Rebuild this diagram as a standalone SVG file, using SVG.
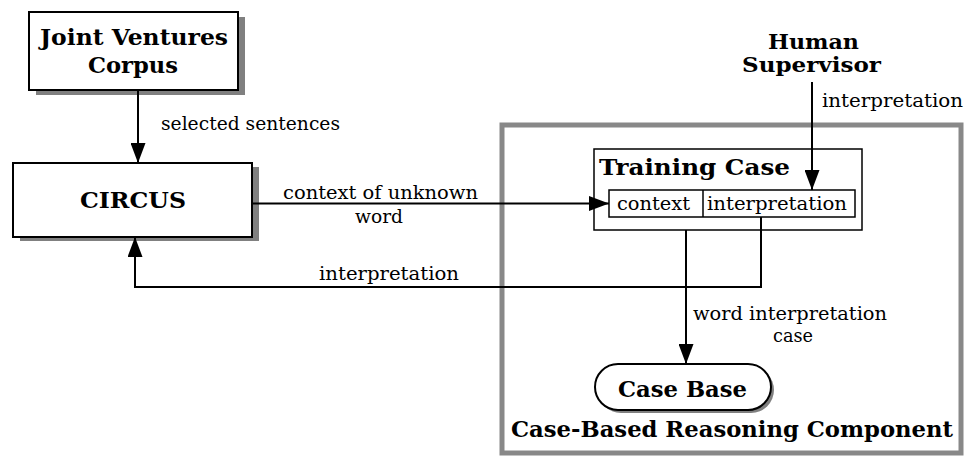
<svg xmlns="http://www.w3.org/2000/svg" width="966" height="465" viewBox="0 0 966 465" font-family="'DejaVu Serif', 'Noto Serif', serif">
  <defs>
    <marker id="arrow" markerUnits="userSpaceOnUse" markerWidth="20" markerHeight="15" refX="20" refY="7.5" orient="auto">
      <path d="M0,0 L20,7.5 L0,15 Z" fill="#000"/>
    </marker>
    <style>
      .box { fill: #fff; stroke: #000; stroke-width: 2; }
      .thin { fill: #fff; stroke: #000; stroke-width: 1.5; }
      .shadow { fill: #808080; stroke: none; }
      .frame { fill: none; stroke: #888; stroke-width: 5; }
      .edge { fill: none; stroke: #000; stroke-width: 2; }
      text { font-family: 'DejaVu Serif', 'Noto Serif', serif; fill: #000; }
      .title { font-weight: bold; font-size: 23px; }
      .small { font-size: 20px; }
      .label { font-size: 19px; }
    </style>
  </defs>
  <rect width="966" height="465" fill="#fff"/>

  <!-- Case-Based Reasoning Component container -->
  <g id="cbr-component">
    <rect class="frame" x="502" y="125" width="459" height="328"/>
    <text class="title" x="511" y="437" textLength="442" lengthAdjust="spacingAndGlyphs">Case-Based Reasoning Component</text>
  </g>

  <!-- Joint Ventures Corpus -->
  <g id="corpus">
    <rect class="shadow" x="36" y="17" width="209" height="78"/>
    <rect class="box" x="29" y="12" width="209" height="78"/>
    <text class="title" x="40" y="45" textLength="188" lengthAdjust="spacingAndGlyphs">Joint Ventures</text>
    <text class="title" x="88" y="73" textLength="90" lengthAdjust="spacingAndGlyphs">Corpus</text>
  </g>

  <!-- CIRCUS -->
  <g id="circus">
    <rect class="shadow" x="20" y="167" width="239" height="74"/>
    <rect class="box" x="13" y="163" width="239" height="74"/>
    <text class="title" x="80" y="208" textLength="106" lengthAdjust="spacingAndGlyphs">CIRCUS</text>
  </g>

  <!-- Human Supervisor -->
  <g id="supervisor">
    <text class="title small" x="768" y="49" textLength="91" lengthAdjust="spacingAndGlyphs">Human</text>
    <text class="title small" x="742" y="72" textLength="139" lengthAdjust="spacingAndGlyphs">Supervisor</text>
  </g>

  <!-- Training Case with its context / interpretation slots -->
  <g id="training-case">
    <rect class="thin" x="594" y="149" width="268" height="81"/>
    <text class="title" x="599" y="175" textLength="191" lengthAdjust="spacingAndGlyphs">Training Case</text>
    <rect class="thin" x="609" y="190" width="246" height="27"/>
    <line x1="703" y1="190" x2="703" y2="217" stroke="#000" stroke-width="1.5"/>
    <text class="label" x="617" y="210" textLength="73" lengthAdjust="spacingAndGlyphs">context</text>
    <text class="label" x="707" y="210" textLength="140" lengthAdjust="spacingAndGlyphs">interpretation</text>
  </g>

  <!-- Case Base -->
  <g id="case-base">
    <rect class="shadow" x="598" y="367" width="176" height="46" rx="23" ry="23"/>
    <rect class="box" x="595" y="364" width="176" height="46" rx="23" ry="23"/>
    <text class="title" x="618" y="397" textLength="129" lengthAdjust="spacingAndGlyphs">Case Base</text>
  </g>

  <!-- Connectors -->
  <g id="connectors">
    <line class="edge" x1="138" y1="90" x2="138" y2="163" marker-end="url(#arrow)"/>
    <text class="label" x="161" y="130" textLength="179" lengthAdjust="spacingAndGlyphs">selected sentences</text>

    <line class="edge" x1="252" y1="203.5" x2="609" y2="203.5" marker-end="url(#arrow)"/>
    <text class="label" x="283" y="199" textLength="195" lengthAdjust="spacingAndGlyphs">context of unknown</text>
    <text class="label" x="355" y="223" textLength="48" lengthAdjust="spacingAndGlyphs">word</text>

    <line class="edge" x1="812" y1="82" x2="812" y2="190" marker-end="url(#arrow)"/>
    <text class="label" x="822" y="107" textLength="141" lengthAdjust="spacingAndGlyphs">interpretation</text>

    <polyline class="edge" points="761,217 761,287 135,287 135,237" marker-end="url(#arrow)"/>
    <text class="label" x="319" y="280" textLength="140" lengthAdjust="spacingAndGlyphs">interpretation</text>

    <line class="edge" x1="686" y1="230" x2="686" y2="364" marker-end="url(#arrow)"/>
    <text class="label" x="693" y="320" textLength="194" lengthAdjust="spacingAndGlyphs">word interpretation</text>
    <text class="label" x="773" y="342" textLength="40" lengthAdjust="spacingAndGlyphs">case</text>
  </g>
</svg>
